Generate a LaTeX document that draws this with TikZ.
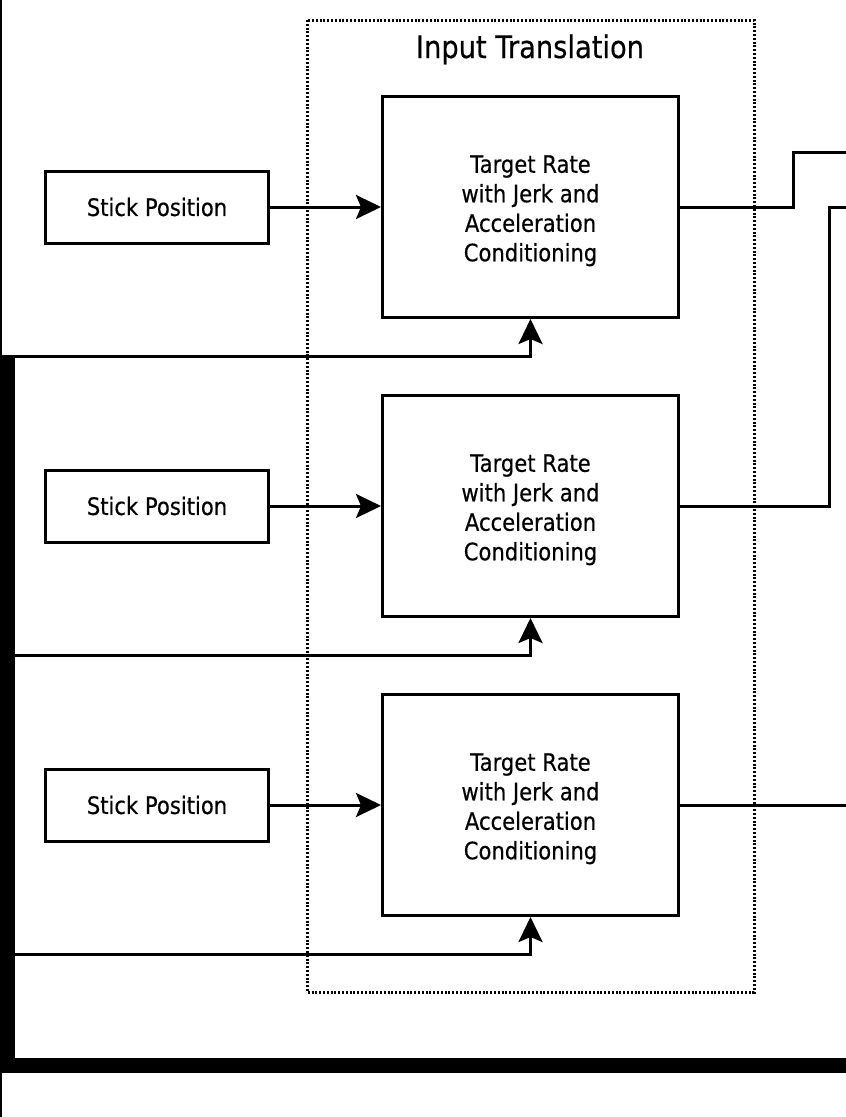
\documentclass[tikz,border=0pt]{standalone}
\usepackage{fontspec}
\setmainfont{DejaVu Sans}[FakeStretch=0.88,FakeBold=0.4]
\usetikzlibrary{arrows.meta}

\tikzstyle{stick}=[draw,line width=3pt,minimum width=223pt,minimum height=72pt,inner sep=0pt,font=\fontsize{24}{29.5}\selectfont]
\tikzstyle{target}=[draw,line width=3pt,minimum width=296pt,minimum height=221pt,inner sep=0pt,align=center,font=\fontsize{24}{29.5}\selectfont]
\tikzstyle{wire}=[draw,line width=3pt]
\tikzstyle{link}=[draw,line width=3pt,-{Stealth[length=25pt,width=24pt,inset=5pt]}]
\tikzstyle{bus}=[draw,line width=15pt]
\tikzstyle{group}=[draw,line width=3pt,dash pattern=on 2pt off 1.8pt]

\begin{document}
\begin{tikzpicture}[x=1pt,y=-1pt]
\useasboundingbox (0,0) rectangle (846,1117);
\draw[line width=1.5pt] (0.75,0) -- (0.75,1117);
\draw[group] (307,20) rectangle (754,992);
\node[anchor=base,font=\fontsize{31}{36}\selectfont] (title) at (530,58) {Input Translation};
\foreach \row/\y in {1/207, 2/506, 3/805}{
  \node[stick] (S\row) at (157,\y) {Stick Position};
  \node[target] (T\row) at (530.5,\y) {\rule{0pt}{25pt}Target Rate\\with Jerk and\\Acceleration\\Conditioning};
  \coordinate (F\row) at (7.5,\y+149);
  \path[link] (S\row) -- (T\row);
  \path[link] (F\row) -| (T\row);
}
% shared bus on the left and bottom
\coordinate (bustop) at (7.5,355);
\coordinate (buscorner) at (7.5,1065.5);
\coordinate (busend) at (846,1065.5);
\path[bus] (bustop) -- (buscorner) -- (busend);
% outputs leaving to the right
\coordinate (O1) at (846,152);
\coordinate (O2) at (846,207);
\coordinate (O3) at (846,805);
\path[wire] (T1.east) -- ++(113.5,0) |- (O1);
\path[wire] (T2.east) -- ++(149.5,0) |- (O2);
\path[wire] (T3.east) -- (O3);
\end{tikzpicture}
\end{document}
